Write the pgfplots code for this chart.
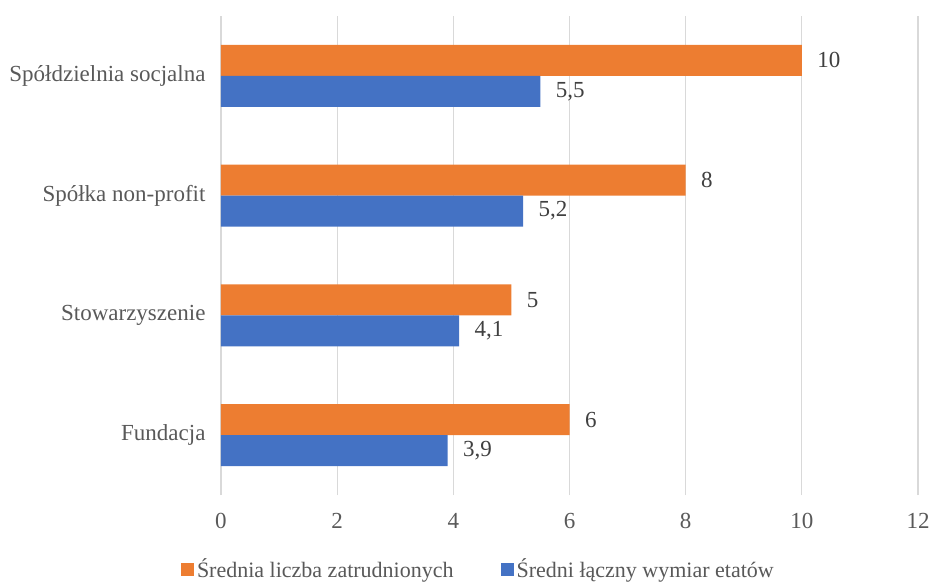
\documentclass[border=0pt]{standalone}
\usepackage{fontspec}
\setmainfont{Liberation Serif}
\usepackage{pgfplots}
\pgfplotsset{compat=1.18}
\definecolor{cOrange}{HTML}{ED7D31}
\definecolor{cBlue}{HTML}{4472C4}
\definecolor{cGrid}{HTML}{D9D9D9}
\definecolor{cText}{HTML}{595959}
\definecolor{cLabel}{HTML}{404040}

\begin{document}
\begin{tikzpicture}
\useasboundingbox (-221pt,-86pt) rectangle (712pt,495pt);
\begin{axis}[
  at={(0pt,0pt)}, anchor=south west,
  scale only axis, width=697pt, height=479pt,
  xmin=0, xmax=12, ymin=-0.5, ymax=3.5,
  xtick={0,2,...,12}, ytick={0,1,2,3},
  yticklabels={Fundacja,Stowarzyszenie,Spółka non-profit,Spółdzielnia socjalna},
  major tick length=0pt,
  xmajorgrids, grid style={cGrid, line width=1.3pt},
  axis x line*=bottom, axis y line*=left, axis line style={draw=none},
  tick label style={font=\fontsize{23}{27}\selectfont, text=cText},
  /pgf/number format/assume math mode=true,
  xticklabel style={yshift=-15pt},
  yticklabel style={xshift=-12pt},
  xbar, bar width=31pt,
  nodes near coords,
  nodes near coords style={font=\fontsize{23}{27}\selectfont, text=cLabel, anchor=west, xshift=12pt},
  /pgf/number format/use comma,
  legend style={at={(0.370,-0.155)}, anchor=center, draw=none, font=\fontsize{22}{26}\selectfont, text=cText, legend columns=2, /tikz/every even column/.append style={column sep=44pt}, nodes={inner xsep=3pt}},
  legend image code/.code={\fill[#1] (0pt,-6.5pt) rectangle (13pt,6.5pt);},
]
\addplot[fill=cOrange, draw=none, bar shift=15.5pt] coordinates {(6,0) (5,1) (8,2) (10,3)};
\addplot[fill=cBlue, draw=none, bar shift=-15.5pt] coordinates {(3.9,0) (4.1,1) (5.2,2) (5.5,3)};
\legend{Średnia liczba zatrudnionych, Średni łączny wymiar etatów}
\end{axis}
\end{tikzpicture}
\end{document}
